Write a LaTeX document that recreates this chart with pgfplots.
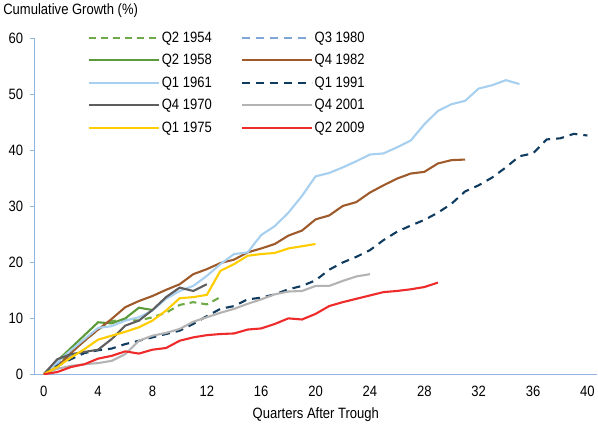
\documentclass[border=0pt]{standalone}
\usepackage{pgfplots}
\pgfplotsset{compat=1.18}
\usepackage{fontspec}
\setmainfont{Liberation Sans}[FakeStretch=0.87]

\definecolor{axisblue}{HTML}{92B4DE}
\definecolor{c1954}{HTML}{6EAA48}
\definecolor{c1958}{HTML}{5B9B3B}
\definecolor{c1961}{HTML}{A7CFEF}
\definecolor{c1970}{HTML}{5E5E5E}
\definecolor{c1975}{HTML}{FFCC00}
\definecolor{c1980}{HTML}{7FA6D6}
\definecolor{c1982}{HTML}{9E5A2A}
\definecolor{c1991}{HTML}{0F3B5F}
\definecolor{c2001}{HTML}{B3B3B3}
\definecolor{c2009}{HTML}{EE2A2A}

\newcommand{\chartfont}{\fontsize{15pt}{17pt}\selectfont}

\begin{document}
\begin{tikzpicture}
\begin{axis}[
    width=563pt, height=336pt, scale only axis,
    xmin=-0.66, xmax=40.7, ymin=0, ymax=60,
    xtick={0,4,...,40}, ytick={0,10,...,60},
    axis x line=bottom, axis y line=left,
    axis line style={-, color=axisblue, line width=1.3pt},
    x tick style={draw=none},
    y tick style={color=axisblue, line width=1.3pt},
    tick align=outside, major tick length=5pt,
    /pgf/number format/assume math mode=true,
    tick label style={font=\chartfont, black},
    yticklabel style={xshift=-3pt},
    xticklabel style={yshift=-3pt},
    xlabel={Quarters After Trough},
    xlabel style={font=\chartfont, yshift=-4pt},
    title={Cumulative Growth (\%)},
    title style={font=\chartfont, at={(0,1)}, anchor=south west, xshift=-35pt, yshift=12pt},
    every axis plot/.append style={line width=2.1pt, no markers},
    legend columns=2,
    legend cell align=left,
    legend image code/.code={\draw[#1] plot coordinates {(0pt,0pt) (35pt,0pt) (70pt,0pt)};},
    legend style={at={(0.094,1.027)}, anchor=north west, draw=none, fill=none,
        font=\chartfont, row sep=6.5pt, inner sep=0pt,
        nodes={inner sep=2pt},
        /tikz/every even column/.append style={column sep=27pt}},
]
% Q2 1954
\addplot[c1954, dash pattern=on 7pt off 5pt] coordinates {
(0,0) (1,2) (2,4) (3,6) (4,8) (5,9.5) (6,9.8) (7,9.6) (8,10.2) (9,11)
(10,12.4) (11,12.9) (12,12.5) (13,13.8)};
\addlegendentry{Q2 1954}
% Q3 1980
\addplot[c1980, dash pattern=on 8pt off 6pt] coordinates {
(0,0) (1,1.8) (2,3.4) (3,3.9) (4,4.3)};
\addlegendentry{Q3 1980}
% Q2 1958
\addplot[c1958] coordinates {
(0,0) (1,2.4) (2,4.7) (3,7) (4,9.3) (5,9.1) (6,10) (7,11.9) (8,11.5)};
\addlegendentry{Q2 1958}
% Q4 1982
\addplot[c1982] coordinates {
(0,0) (1,1.3) (2,3.8) (3,6) (4,8) (5,9.9) (6,12) (7,13.1) (8,14) (9,15.1)
(10,16.1) (11,17.9) (12,18.8) (13,19.9) (14,20.5) (15,21.8) (16,22.5) (17,23.3)
(18,24.8) (19,25.7) (20,27.7) (21,28.4) (22,30.1) (23,30.8) (24,32.5) (25,33.8)
(26,35) (27,35.9) (28,36.2) (29,37.7) (30,38.3) (31,38.4)};
\addlegendentry{Q4 1982}
% Q1 1961
\addplot[c1961] coordinates {
(0,0) (1,2.2) (2,4.3) (3,6.3) (4,8.3) (5,8.6) (6,9.6) (7,10.2) (8,11.4) (9,13.5)
(10,14.9) (11,15.8) (12,17.6) (13,19.7) (14,21.5) (15,21.8) (16,24.9) (17,26.5)
(18,28.9) (19,31.9) (20,35.4) (21,36) (22,37) (23,38.1) (24,39.3) (25,39.5)
(26,40.6) (27,41.8) (28,44.7) (29,47.1) (30,48.3) (31,48.9) (32,51.1) (33,51.7)
(34,52.6) (35,51.9)};
\addlegendentry{Q1 1961}
% Q1 1991
\addplot[c1991, dash pattern=on 8pt off 6pt] coordinates {
(0,0) (1,1.5) (2,2.7) (3,3.8) (4,4.3) (5,4.6) (6,5.4) (7,6) (8,6.6) (9,7.2)
(10,7.8) (11,9) (12,10.4) (13,11.7) (14,12.2) (15,13.4) (16,13.7) (17,14.3)
(18,15.2) (19,15.8) (20,16.8) (21,18.7) (22,20) (23,21) (24,22.2) (25,24)
(26,25.5) (27,26.6) (28,27.6) (29,28.9) (30,30.5) (31,32.7) (32,33.8) (33,35.2)
(34,37) (35,39) (36,39.5) (37,42) (38,42.2) (39,43) (40,42.7)};
\addlegendentry{Q1 1991}
% Q4 1970
\addplot[c1970] coordinates {
(0,0) (1,2.7) (2,3.6) (3,4) (4,4.4) (5,6.3) (6,8.7) (7,9.6) (8,11.5) (9,13.8)
(10,15.5) (11,14.9) (12,16.1)};
\addlegendentry{Q4 1970}
% Q4 2001
\addplot[c2001] coordinates {
(0,0) (1,1) (2,1.5) (3,1.8) (4,2) (5,2.4) (6,3.6) (7,6) (8,6.9) (9,7.4)
(10,8.1) (11,9.4) (12,10.2) (13,11) (14,11.7) (15,12.6) (16,13.4) (17,14.3)
(18,14.8) (19,14.9) (20,15.8) (21,15.8) (22,16.7) (23,17.5) (24,17.9)};
\addlegendentry{Q4 2001}
% Q1 1975
\addplot[c1975] coordinates {
(0,0) (1,1.3) (2,3) (3,4.5) (4,6.2) (5,6.9) (6,7.6) (7,8.4) (8,9.6) (9,11.4)
(10,13.6) (11,13.8) (12,14.2) (13,18.5) (14,19.7) (15,21.2) (16,21.5) (17,21.7)
(18,22.5) (19,22.9) (20,23.3)};
\addlegendentry{Q1 1975}
% Q2 2009
\addplot[c2009] coordinates {
(0,0) (1,0.4) (2,1.3) (3,1.8) (4,2.8) (5,3.3) (6,4.1) (7,3.7) (8,4.4) (9,4.7)
(10,6) (11,6.6) (12,7) (13,7.2) (14,7.3) (15,8) (16,8.2) (17,9) (18,10)
(19,9.8) (20,10.8) (21,12.2) (22,12.9) (23,13.5) (24,14.1) (25,14.7) (26,14.9)
(27,15.2) (28,15.6) (29,16.4)};
\addlegendentry{Q2 2009}
\end{axis}
\end{tikzpicture}
\end{document}
